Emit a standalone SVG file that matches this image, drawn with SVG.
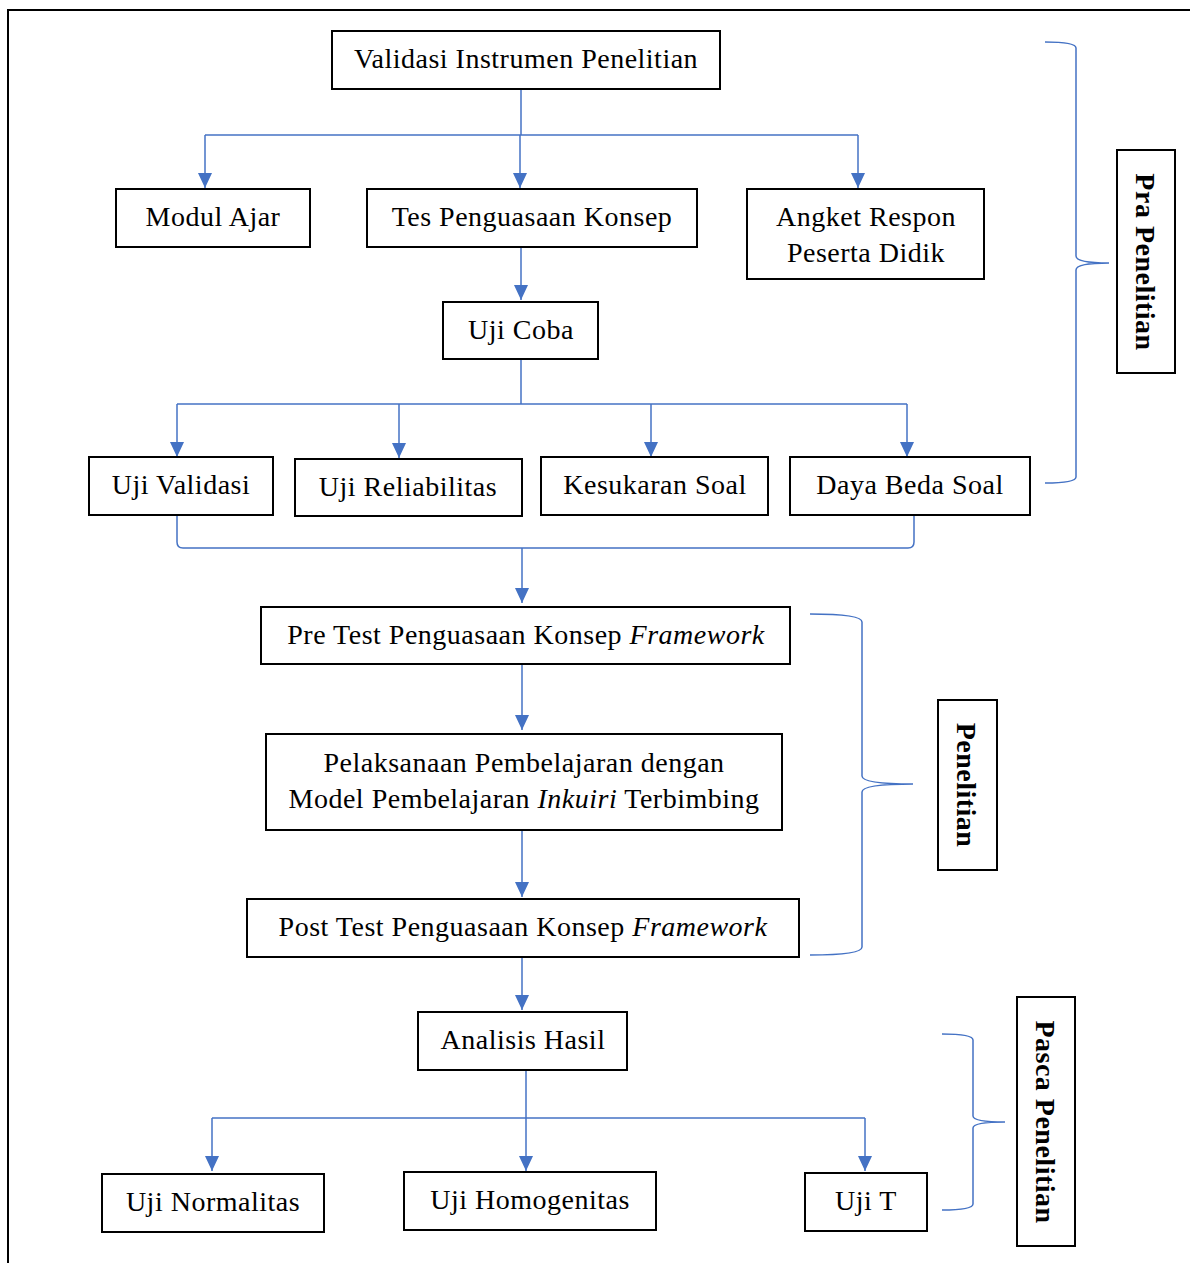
<svg xmlns="http://www.w3.org/2000/svg" width="1190" height="1263" viewBox="0 0 1190 1263">
<defs>
<marker id="arr" markerUnits="userSpaceOnUse" markerWidth="16" markerHeight="16" viewBox="0 0 16 16" refX="15" refY="8" orient="auto">
<path d="M0,1 L15,8 L0,15 Z" fill="#4472C4"/>
</marker>
</defs>
<style>
.box{fill:#fff;stroke:#000;stroke-width:2}
.t{font-family:"Liberation Serif","Times New Roman",serif;font-size:28px;letter-spacing:0.5px;fill:#000;text-anchor:middle}
.v{font-family:"Liberation Serif","Times New Roman",serif;font-size:28px;letter-spacing:0.5px;font-weight:bold;fill:#000;text-anchor:middle}
.c{fill:none;stroke:#4472C4;stroke-width:1.5}
</style>
<rect x="0" y="0" width="1190" height="1263" fill="#fff"/>
<path d="M8,1263 L8,10 L1190,10" fill="none" stroke="#000" stroke-width="2"/>

<g id="connectors">
<path class="c" d="M521,89 L521,135"/>
<path class="c" d="M205,135 L858,135"/>
<path class="c" d="M205,135 L205,188" marker-end="url(#arr)"/>
<path class="c" d="M520,135 L520,188" marker-end="url(#arr)"/>
<path class="c" d="M858,135 L858,188" marker-end="url(#arr)"/>
<path class="c" d="M521,247 L521,300" marker-end="url(#arr)"/>
<path class="c" d="M521,359 L521,404"/>
<path class="c" d="M177,404 L907,404"/>
<path class="c" d="M177,404 L177,457" marker-end="url(#arr)"/>
<path class="c" d="M399,404 L399,458" marker-end="url(#arr)"/>
<path class="c" d="M651,404 L651,457" marker-end="url(#arr)"/>
<path class="c" d="M907,404 L907,457" marker-end="url(#arr)"/>
<path class="c" d="M177,515 L177,542 Q177,548 183,548 L908,548 Q914,548 914,542 L914,515"/>
<path class="c" d="M522,548 L522,603" marker-end="url(#arr)"/>
<path class="c" d="M522,664 L522,730" marker-end="url(#arr)"/>
<path class="c" d="M522,830 L522,897" marker-end="url(#arr)"/>
<path class="c" d="M522,957 L522,1010" marker-end="url(#arr)"/>
<path class="c" d="M526,1070 L526,1118"/>
<path class="c" d="M212,1118 L865,1118"/>
<path class="c" d="M212,1118 L212,1171" marker-end="url(#arr)"/>
<path class="c" d="M526,1118 L526,1171" marker-end="url(#arr)"/>
<path class="c" d="M865,1118 L865,1171" marker-end="url(#arr)"/>
<path class="c" d="M1045,42 Q1076,42 1076,48 L1076,256 Q1076,263 1109,263 Q1076,263 1076,270 L1076,477 Q1076,483 1045,483"/>
<path class="c" d="M810,614 Q862,614 862,622 L862,776 Q862,784 913,784 Q862,784 862,792 L862,947 Q862,955 810,955"/>
<path class="c" d="M942,1034 Q973,1034 973,1040 L973,1116 Q973,1122 1005,1122 Q973,1122 973,1128 L973,1204 Q973,1210 942,1210"/>
</g>

<g id="n-validasi"><rect class="box" x="332" y="31" width="388" height="58"/><text class="t" x="526" y="68">Validasi Instrumen Penelitian</text></g>
<g id="n-modul"><rect class="box" x="116" y="189" width="194" height="58"/><text class="t" x="213" y="226">Modul Ajar</text></g>
<g id="n-tes"><rect class="box" x="367" y="189" width="330" height="58"/><text class="t" x="532" y="226">Tes Penguasaan Konsep</text></g>
<g id="n-angket"><rect class="box" x="747" y="189" width="237" height="90"/><text class="t" x="866" y="226">Angket Respon</text><text class="t" x="866" y="262">Peserta Didik</text></g>
<g id="n-ujicoba"><rect class="box" x="443" y="302" width="155" height="57"/><text class="t" x="521" y="339">Uji Coba</text></g>
<g id="n-validitas"><rect class="box" x="89" y="457" width="184" height="58"/><text class="t" x="181" y="494">Uji Validasi</text></g>
<g id="n-reliabilitas"><rect class="box" x="295" y="459" width="227" height="57"/><text class="t" x="408" y="496">Uji Reliabilitas</text></g>
<g id="n-kesukaran"><rect class="box" x="541" y="457" width="227" height="58"/><text class="t" x="655" y="494">Kesukaran Soal</text></g>
<g id="n-dayabeda"><rect class="box" x="790" y="457" width="240" height="58"/><text class="t" x="910" y="494">Daya Beda Soal</text></g>
<g id="n-pretest"><rect class="box" x="261" y="607" width="529" height="57"/><text class="t" x="526" y="644">Pre Test Penguasaan Konsep <tspan font-style="italic">Framework</tspan></text></g>
<g id="n-pelaksanaan"><rect class="box" x="266" y="734" width="516" height="96"/><text class="t" x="524" y="772">Pelaksanaan Pembelajaran dengan</text><text class="t" x="524" y="808">Model Pembelajaran <tspan font-style="italic">Inkuiri</tspan> Terbimbing</text></g>
<g id="n-posttest"><rect class="box" x="247" y="899" width="552" height="58"/><text class="t" x="523" y="936">Post Test Penguasaan Konsep <tspan font-style="italic">Framework</tspan></text></g>
<g id="n-analisis"><rect class="box" x="418" y="1012" width="209" height="58"/><text class="t" x="523" y="1049">Analisis Hasil</text></g>
<g id="n-normalitas"><rect class="box" x="102" y="1174" width="222" height="58"/><text class="t" x="213" y="1211">Uji Normalitas</text></g>
<g id="n-homogenitas"><rect class="box" x="404" y="1172" width="252" height="58"/><text class="t" x="530" y="1209">Uji Homogenitas</text></g>
<g id="n-ujit"><rect class="box" x="805" y="1173" width="122" height="58"/><text class="t" x="866" y="1210">Uji T</text></g>

<g id="n-pra"><rect class="box" x="1117" y="150" width="58" height="223"/><text class="v" transform="translate(1136,262) rotate(90)">Pra Penelitian</text></g>
<g id="n-penelitian"><rect class="box" x="938" y="700" width="59" height="170"/><text class="v" transform="translate(957,785) rotate(90)">Penelitian</text></g>
<g id="n-pasca"><rect class="box" x="1017" y="997" width="58" height="249"/><text class="v" transform="translate(1036,1122) rotate(90)">Pasca Penelitian</text></g>
</svg>
